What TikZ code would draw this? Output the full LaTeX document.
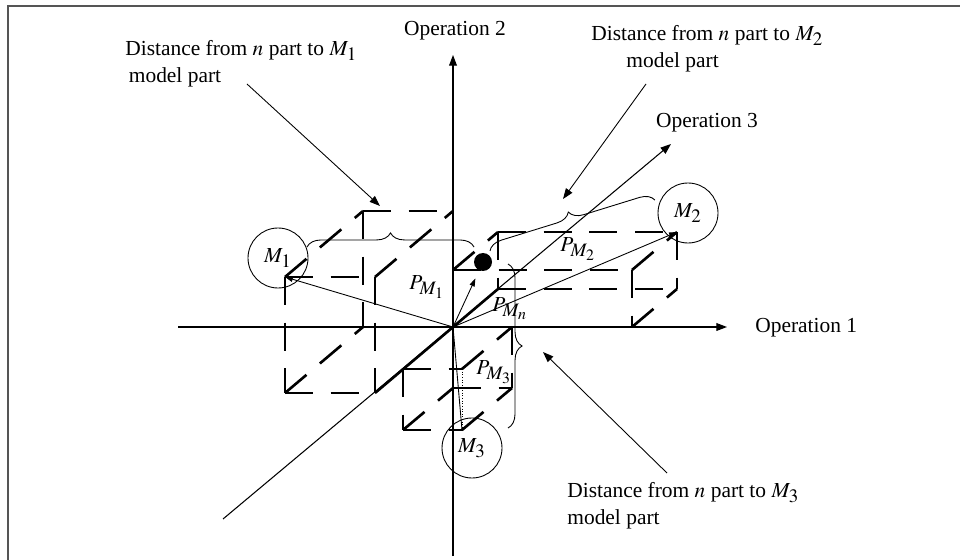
\documentclass[tikz,border=0pt]{standalone}
\usepackage{mathptmx}
\usepackage{fontspec}
\setmainfont{Liberation Serif}
\usepackage{tikz}
\usetikzlibrary{arrows.meta,positioning,decorations.pathreplacing}
\definecolor{Frame}{HTML}{555555}
\DeclareMathSizes{12.2}{12.2}{10.8}{9}

\begin{document}
\begin{tikzpicture}[x=0.02cm, y=-0.02cm,
  lbl/.style={font=\fontsize{12.2}{15.6}\selectfont, inner sep=0pt, align=left},
  opaxis/.style={line width=0.6pt, -{Triangle[length=6pt,width=4.4pt]}},
  vec/.style={line width=0.5pt, -{Triangle[length=4.5pt,width=3pt]}},
  leader/.style={line width=0.5pt, -{Triangle[length=6pt,width=4.4pt]}},
  cubeedge/.style={line width=1.5pt, dash pattern=on 16pt off 10pt},
  solidedge/.style={line width=1.5pt},
  distbrace/.style={decorate, decoration={brace, amplitude=8pt}, line width=0.5pt},
  modelpt/.style={draw, circle, line width=0.5pt, minimum size=1.2cm, inner sep=0pt,
    font=\fontsize{12.2}{14}\selectfont},
  npoint/.style={circle, fill=black, minimum size=0.36cm, inner sep=0pt},
  frame/.style={draw=Frame, line width=1pt}
]
  \useasboundingbox (0,0) rectangle (960,560);
  \draw[frame] (8,560) -- (8,6) -- (960,6);

  % axes
  \coordinate (O) at (453,327);
  \coordinate (x0) at (178,327);  \coordinate (x1) at (727,327);
  \coordinate (y0) at (453,556);  \coordinate (y1) at (453,55);
  \coordinate (z0) at (223,519);  \coordinate (z1) at (671,144);
  \draw[opaxis] (x0) -- (x1);
  \draw[opaxis] (y0) -- (y1);
  \draw[opaxis] (z0) -- (z1);
  \node[lbl, anchor=west] (op1) at (755,328) {Operation 1};
  \node[lbl] (op2) at (455,31) {Operation 2};
  \node[lbl] (op3) at (707,123) {Operation 3};

  % box of M1
  \coordinate (b1a) at (363,211); \coordinate (b1b) at (453,211);
  \coordinate (b1d) at (363,327);
  \coordinate (f1a) at (285,277); \coordinate (f1b) at (375,277);
  \coordinate (f1c) at (375,393); \coordinate (f1d) at (285,393);
  % box of M2
  \coordinate (f2a) at (453,270); \coordinate (f2b) at (632,270);
  \coordinate (f2c) at (632,327);
  \coordinate (b2a) at (498,232); \coordinate (b2b) at (677,232);
  \coordinate (b2c) at (677,289); \coordinate (b2d) at (498,289);
  % box of M3
  \coordinate (b3b) at (512,327); \coordinate (b3c) at (512,388);
  \coordinate (b3d) at (453,388);
  \coordinate (f3a) at (403,369); \coordinate (f3b) at (462,369);
  \coordinate (f3c) at (462,430); \coordinate (f3d) at (403,430);

  \foreach \a/\b in {b1a/b1b, b1a/b1d, f1a/f1b, f1b/f1c, f1d/f1c, f1a/f1d,
                     f1a/b1a, f1b/b1b, f1d/b1d,
                     f2a/f2b, f2b/f2c, b2a/b2b, b2b/b2c, b2d/b2c, b2a/b2d,
                     f2a/b2a, f2b/b2b, f2c/b2c,
                     b3b/b3c, b3d/b3c, f3a/f3b, f3a/f3d, f3d/f3c,
                     f3b/b3b, f3c/b3c, f3d/b3d}
    \draw[cubeedge] (\a) -- (\b);
  \draw[solidedge] (b1d) -- (f2c);
  \draw[solidedge] (b1b) -- (b3d);
  \draw[solidedge] (f1c) -- (b2d);
  \draw[line width=0.5pt, densely dotted] (f3b) -- (f3c);

  % model parts and part n
  \node[modelpt] (m1) at (278,258) {$M_1$};
  \node[modelpt] (m2) at (688,213) {$M_2$};
  \node[modelpt] (m3) at (472,448) {$M_3$};
  \node[npoint] (npart) at (483,262) {};

  % distance vectors
  \draw[vec] (O) -- (f1a);
  \draw[vec] (O) -- (b2b);
  \draw[line width=0.5pt] (O) -- (f3c);
  \draw[vec, shorten >=5pt] (O) -- (npart);
  \node[lbl] (pm1) at (427,287) {$P_{M_1}$};
  \node[lbl] (pm2) at (578,249) {$P_{M_2}$};
  \node[lbl] (pmn) at (510,309) {$P_{M_n}$};
  \node[lbl] (pm3) at (494,372) {$P_{M_3}$};

  % braces
  \coordinate (br1s) at (307,247); \coordinate (br1e) at (474,247);
  \coordinate (br2s) at (490,251); \coordinate (br2e) at (655,200);
  \coordinate (br3s) at (508,264); \coordinate (br3e) at (508,428);
  \draw[distbrace] (br1s) -- (br1e);
  \draw[distbrace] (br2s) -- (br2e);
  \draw[distbrace] (br3s) -- (br3e);

  % notes
  \node[lbl, anchor=west] (d1) at (125,64)
    {Distance from $n$ part to $M_1$\\\hspace*{2pt}model part};
  \node[lbl, anchor=west] (d2) at (591,49)
    {Distance from $n$ part to $M_2$\\\hspace*{20pt}model part};
  \node[lbl, anchor=west] (d3) at (567,506)
    {Distance from $n$ part to $M_3$\\model part};
  \coordinate (t1) at (380,206);
  \coordinate (t2) at (563,199);
  \coordinate (t3) at (543,352);
  \draw[leader] (247,84) -- (t1);
  \draw[leader] (646,84) -- (t2);
  \draw[leader] (667,473) -- (t3);
\end{tikzpicture}
\end{document}
